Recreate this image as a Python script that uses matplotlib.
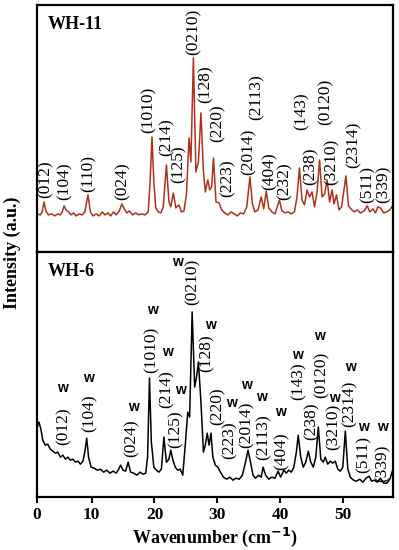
import matplotlib.pyplot as plt

# ── spectra (intensity in a.u.) ──────────────────────────────────────────────
WH11_X = [1.3, 1.8, 2.1, 2.4, 2.7, 3.1, 3.6, 4.1, 4.6, 5.0, 5.3, 5.6, 5.9, 6.3,
          6.7, 7.1, 7.5, 8.0, 8.5, 8.9, 9.4, 9.8, 10.2, 10.7, 11.2, 11.7, 12.1,
          12.6, 13.0, 13.5, 13.9, 14.4, 14.8, 15.2, 15.6, 16.0, 16.5, 17.0,
          17.5, 18.0, 18.5, 19.0, 19.3, 19.6, 19.9, 20.2, 20.6, 21.0, 21.4,
          21.9, 22.3, 22.6, 23.0, 23.4, 23.9, 24.3, 24.7, 25.1, 25.5, 25.8,
          26.2, 26.6, 27.0, 27.4, 27.8, 28.1, 28.5, 28.8, 29.1, 29.4, 29.8,
          30.3, 30.7, 31.2, 31.7, 32.2, 32.7, 33.2, 33.7, 34.2, 34.7, 35.2,
          35.6, 36.0, 36.5, 37.0, 37.4, 37.8, 38.2, 38.7, 39.2, 39.9, 40.3,
          40.8, 41.3, 41.8, 42.3, 42.7, 43.1, 43.5, 43.9, 44.3, 44.7, 45.1,
          45.5, 45.9, 46.3, 46.7, 47.1, 47.5, 47.9, 48.3, 48.6, 49.0, 49.4,
          49.8, 50.1, 50.5, 50.9, 51.3, 51.8, 52.3, 52.8, 53.4, 53.9, 54.3,
          54.8, 55.2, 55.6, 56.0, 56.5, 57.0, 57.5, 58.0]
WH11_Y = [38, 37, 40, 50, 41, 37, 38, 36, 38, 37, 40, 46, 42, 40,
          37, 39, 36, 38, 37, 40, 57, 40, 36, 38, 36, 40, 37,
          39, 36, 40, 37, 41, 48, 43, 39, 41, 37, 39,
          37, 38, 37, 40, 70, 115, 70, 44, 40, 39, 45,
          87, 50, 45, 59, 44, 47, 40, 41, 58, 114, 90,
          194, 80, 90, 139, 80, 60, 72, 62, 65, 94, 50,
          49, 42, 39, 37, 40, 38, 36, 39, 38, 45, 75,
          48, 40, 42, 55, 43, 61, 44, 40, 38, 52, 41,
          39, 40, 38, 40, 55, 84, 52, 47, 62, 55, 60,
          45, 60, 92, 55, 58, 72, 50, 62, 48, 57, 42,
          45, 58, 76, 46, 43, 40, 42, 39, 41, 46, 40,
          43, 39, 45, 44, 39, 40, 42, 47]

WH6_X = [1.3, 1.6, 1.9, 2.2, 2.6, 3.0, 3.4, 3.8, 4.2, 4.6, 5.0, 5.4, 5.8, 6.2,
         6.6, 7.0, 7.4, 7.8, 8.2, 8.6, 8.9, 9.2, 9.5, 9.9, 10.4, 10.9, 11.4,
         11.9, 12.4, 12.9, 13.4, 13.9, 14.3, 14.6, 15.0, 15.4, 15.8, 16.2,
         16.7, 17.2, 17.7, 18.2, 18.6, 18.9, 19.2, 19.5, 19.9, 20.3, 20.7,
         21.1, 21.5, 21.9, 22.3, 22.6, 22.9, 23.3, 23.7, 24.1, 24.5, 24.9,
         25.3, 25.6, 26.0, 26.4, 26.7, 27.0, 27.4, 27.8, 28.1, 28.4, 28.7,
         29.0, 29.3, 29.7, 30.1, 30.5, 31.0, 31.5, 32.0, 32.5, 33.0, 33.5,
         34.0, 34.5, 34.9, 35.3, 35.7, 36.1, 36.6, 37.0, 37.3, 37.7, 38.2,
         38.7, 39.2, 39.7, 40.1, 40.6, 41.0, 41.4, 41.8, 42.2, 42.6, 42.9,
         43.3, 43.7, 44.1, 44.5, 44.9, 45.3, 45.7, 46.1, 46.5, 46.9, 47.2,
         47.6, 48.0, 48.4, 48.8, 49.2, 49.6, 50.0, 50.4, 50.8, 51.2, 51.7,
         52.2, 52.7, 53.2, 53.7, 54.2, 54.6, 55.0, 55.5, 56.0, 56.5, 57.0,
         57.5, 58.0]
WH6_Y = [70, 75, 68, 57, 52, 53, 48, 46, 44, 45, 40, 42, 38, 40,
         37, 38, 35, 36, 33, 36, 45, 59, 40, 30, 29, 27, 28,
         25, 27, 24, 26, 24, 28, 32, 27, 26, 35, 25,
         24, 22, 25, 23, 24, 40, 119, 55, 30, 27, 25,
         28, 60, 35, 38, 47, 38, 30, 27, 28, 22, 52,
         85, 80, 185, 110, 120, 135, 95, 45, 52, 64, 52,
         64, 40, 32, 30, 25, 20, 18, 20, 17, 19, 18,
         22, 35, 47, 35, 22, 19, 22, 20, 30, 22, 18,
         20, 19, 26, 20, 27, 24, 27, 25, 30, 45, 62,
         40, 30, 35, 46, 35, 30, 40, 70, 38, 35, 40,
         33, 36, 34, 36, 28, 26, 30, 66, 28, 20, 17,
         16, 18, 15, 19, 21, 16, 17, 15, 19, 14, 14,
         18, 28]

# ── peak labels: (text, x, y of label bottom) ────────────────────────────────
WH11_LABELS = [("(012)", 2.7, 54), ("(104)", 5.7, 52), ("(110)", 9.5, 60),
               ("(024)", 15.0, 52), ("(1010)", 19.0, 119), ("(214)", 21.9, 96),
               ("(125)", 23.9, 69), ("(0210)", 26.2, 197), ("(128)", 28.2, 149),
               ("(220)", 30.1, 110), ("(223)", 31.7, 55), ("(2014)", 35.0, 77),
               ("(2113)", 36.3, 132), ("(404)", 38.3, 62), ("(232)", 40.7, 52),
               ("(143)", 43.4, 122), ("(238)", 44.8, 67), ("(0120)", 47.2, 127),
               ("(3210)", 48.2, 67), ("(2314)", 51.8, 84), ("(511)", 53.9, 49),
               ("(339)", 56.5, 49)]

WH6_LABELS = [("(012)", 5.6, 52), ("(104)", 9.6, 65), ("(024)", 16.4, 40),
              ("(1010)", 19.5, 124), ("(214)", 22.0, 89), ("(125)", 23.3, 49),
              ("(0210)", 26.0, 192), ("(128)", 28.3, 125), ("(220)", 30.0, 72),
              ("(223)", 32.0, 38), ("(2014)", 34.7, 49), ("(2113)", 37.4, 37),
              ("(404)", 40.3, 27), ("(143)", 42.9, 97), ("(238)", 45.0, 57),
              ("(0120)", 46.7, 99), ("(3210)", 48.6, 47), ("(2314)", 51.1, 70),
              ("(511)", 53.3, 24), ("(339)", 56.3, 15)]

# "w" marks (x, y centre)
W_MARKS = [(5.4, 109), (9.4, 119), (16.6, 90), (19.6, 187), (22.0, 145),
           (24.1, 107), (23.6, 235), (28.9, 172), (32.2, 94), (34.7, 112),
           (37.1, 100), (40.0, 85), (42.7, 142), (46.3, 161), (48.7, 99),
           (51.2, 130), (53.3, 70), (56.3, 70)]

X_TICKS = [10, 20, 30, 40, 50]
XMIN, XMAX = 1.3, 58.0

SERIF = "Liberation Serif"
plt.rcParams["font.family"] = SERIF

fig = plt.figure(figsize=(3.99, 5.5), dpi=100)
ax_top = fig.add_axes([0.093, 0.542, 0.892, 0.449])
ax_bot = fig.add_axes([0.093, 0.096, 0.892, 0.446])

ax_top.plot(WH11_X, WH11_Y, color="#ad321e", lw=1.1)
ax_bot.plot(WH6_X, WH6_Y, color="black", lw=1.1)

for ax in (ax_top, ax_bot):
    ax.set_xlim(XMIN, XMAX)
    ax.set_yticks([])
    for sp in ax.spines.values():
        sp.set_linewidth(1.6)

ax_top.set_ylim(0, 247)
ax_bot.set_ylim(0, 245)
ax_top.set_xticks([])

for txt, x, y in WH11_LABELS:
    ax_top.text(x, y, txt, rotation=90, ha="center", va="bottom", fontsize=12.5)
for txt, x, y in WH6_LABELS:
    ax_bot.text(x, y, txt, rotation=90, ha="center", va="bottom", fontsize=12.5)
for x, y in W_MARKS:
    ax_bot.text(x, y, "w", ha="center", va="center", fontsize=10,
                fontweight="bold", family="Liberation Sans")

ax_top.text(0.03, 0.955, "WH-11", transform=ax_top.transAxes, ha="left",
            va="top", fontsize=13, fontweight="bold")
ax_bot.text(0.03, 0.955, "WH-6", transform=ax_bot.transAxes, ha="left",
            va="top", fontsize=13, fontweight="bold")

ax_bot.set_xticks([XMIN] + X_TICKS)
ax_bot.set_xticklabels(["0"] + [str(t) for t in X_TICKS],
                       fontsize=12.5, fontweight="bold")
ax_bot.tick_params(axis="x", direction="out", length=4, width=1.5, pad=3)
ax_bot.set_xlabel("Wavenumber (cm$^{\\mathbf{-1}}$)", fontsize=13,
                  fontweight="bold", labelpad=2)

fig.text(0.03, 0.54, "Intensity (a.u.)", rotation=90, ha="center",
         va="center", fontsize=13, fontweight="bold")

fig.savefig("out.png", dpi=100)
